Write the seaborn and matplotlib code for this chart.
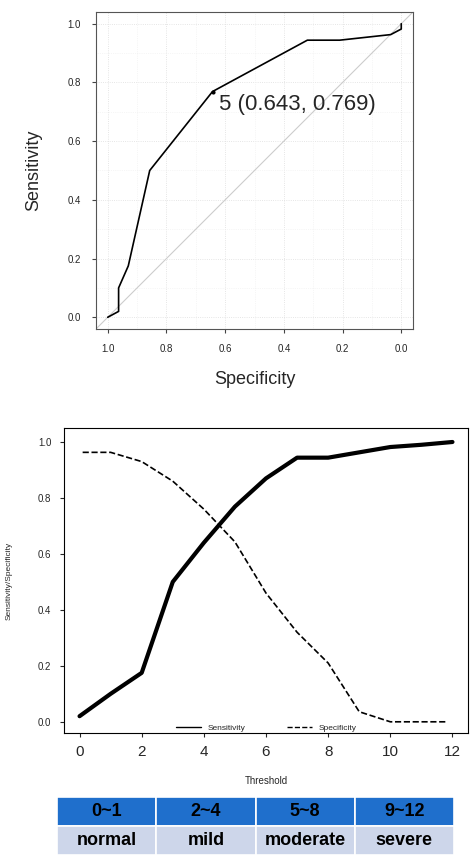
import matplotlib
matplotlib.use("Agg")
import matplotlib.pyplot as plt
from matplotlib.lines import Line2D
import seaborn as sns
import pandas as pd

thresholds = [0, 1, 2, 3, 4, 5, 6, 7, 8, 9, 10, 11, 12]
sensitivity = [0.02, 0.10, 0.175, 0.50, 0.64, 0.769, 0.87, 0.944, 0.944, 0.963, 0.982, 0.99, 1.0]
spec_x = [0.1, 1, 2, 3, 4, 5, 6, 7, 8, 9, 10, 11, 11.8]
specificity = [0.963, 0.963, 0.93, 0.86, 0.76, 0.643, 0.46, 0.32, 0.21, 0.036, 0.0, 0.0, 0.0]
roc_spec = [1.0, 0.963, 0.963, 0.93, 0.857, 0.643, 0.32, 0.21, 0.036, 0.0, 0.0]
roc_sens = [0.0, 0.02, 0.10, 0.175, 0.50, 0.769, 0.944, 0.944, 0.963, 0.982, 1.0]
ranges = ["0~1", "2~4", "5~8", "9~12"]
severity = ["normal", "mild", "moderate", "severe"]

sns.set_style("white")
plt.rcParams['font.family'] = ['Arial', 'Liberation Sans', 'DejaVu Sans']
W, H = 474, 866
fig = plt.figure(figsize=(W/100, H/100), dpi=100)

def box(x0, y0, x1, y1):
    return [x0/W, 1-y1/H, (x1-x0)/W, (y1-y0)/H]

# ROC
ax1 = fig.add_axes(box(96, 12, 413, 329))
for v in [0, 0.2, 0.4, 0.6, 0.8, 1.0]:
    ax1.axhline(v, color="#dddddd", lw=0.6, ls=":", zorder=0)
    ax1.axvline(v, color="#dddddd", lw=0.6, ls=":", zorder=0)
for v in [0.1, 0.3, 0.5, 0.7, 0.9]:
    ax1.axhline(v, color="#eeeeee", lw=0.5, ls=":", zorder=0)
    ax1.axvline(v, color="#eeeeee", lw=0.5, ls=":", zorder=0)
ax1.plot([1.04, -0.04], [-0.04, 1.04], color="#cccccc", lw=0.8)
roc = pd.DataFrame({"spec": roc_spec, "sens": roc_sens})
sns.lineplot(data=roc, x="spec", y="sens", sort=False, color="black", lw=1.2, ax=ax1, estimator=None)
ax1.plot([0.643], [0.769], "o", color="black", ms=2)
ax1.text(0.62, 0.725, "5 (0.643, 0.769)", fontsize=16, va="center")
ax1.set_xlim(1.04, -0.04)
ax1.set_ylim(-0.04, 1.04)
ax1.set_xticks([1.0, 0.8, 0.6, 0.4, 0.2, 0.0])
ax1.set_yticks([0, 0.2, 0.4, 0.6, 0.8, 1.0])
ax1.set_xticklabels(["1.0", "0.8", "0.6", "0.4", "0.2", "0.0"], fontsize=7)
ax1.set_yticklabels(["0.0", "0.2", "0.4", "0.6", "0.8", "1.0"], fontsize=7)
ax1.tick_params(length=3, color="#444444", left=True, bottom=True, pad=8)
ax1.set_xlabel("Specificity", fontsize=13, labelpad=12)
ax1.set_ylabel("Sensitivity", fontsize=13, labelpad=18)
for s in ax1.spines.values():
    s.set_color("#555555"); s.set_linewidth(0.8)

# Threshold plot
ax2 = fig.add_axes(box(64, 428, 468, 733))
d1 = pd.DataFrame({"t": thresholds, "v": sensitivity})
d2 = pd.DataFrame({"t": spec_x, "v": specificity})
sns.lineplot(data=d1, x="t", y="v", color="black", lw=3, ax=ax2, estimator=None)
sns.lineplot(data=d2, x="t", y="v", color="black", lw=1.2, ls="--", ax=ax2, estimator=None)
ax2.set_xlim(-0.5, 12.5)
ax2.set_ylim(-0.04, 1.05)
ax2.set_xticks([0, 2, 4, 6, 8, 10, 12])
ax2.set_xticklabels(["0", "2", "4", "6", "8", "10", "12"], fontsize=11)
ax2.set_yticks([0, 0.2, 0.4, 0.6, 0.8, 1.0])
ax2.set_yticklabels(["0.0", "0.2", "0.4", "0.6", "0.8", "1.0"], fontsize=7)
ax2.tick_params(length=3, left=True, bottom=True, pad=6)
ax2.set_xlabel("Threshold", fontsize=7, labelpad=12)
ax2.set_ylabel("Sensitivity/Specificity", fontsize=6, labelpad=18)
handles = [Line2D([], [], color="black", lw=1), Line2D([], [], color="black", lw=1, ls="--")]
ax2.legend(handles, ["Sensitivity", "Specificity"], loc="lower center", bbox_to_anchor=(0.5, -0.02), ncol=2,
           frameon=False, fontsize=6, handlelength=3, columnspacing=5)
for s in ax2.spines.values():
    s.set_color("black"); s.set_linewidth(0.8)

# Table
ax3 = fig.add_axes(box(57, 797, 454, 855))
ax3.set_axis_off()
tbl = ax3.table(cellText=[ranges, severity], cellLoc="center", bbox=[0, 0, 1, 1])
for (r, c), cell in tbl.get_celld().items():
    cell.set_edgecolor("white"); cell.set_linewidth(1.2)
    if r == 0:
        cell.set_facecolor("#1f6fcc")
    else:
        cell.set_facecolor("#cdd6ea")
    cell.get_text().set_fontsize(13)
    cell.get_text().set_fontweight("bold")
    cell.get_text().set_color("black")

fig.savefig("out.png", dpi=100)
